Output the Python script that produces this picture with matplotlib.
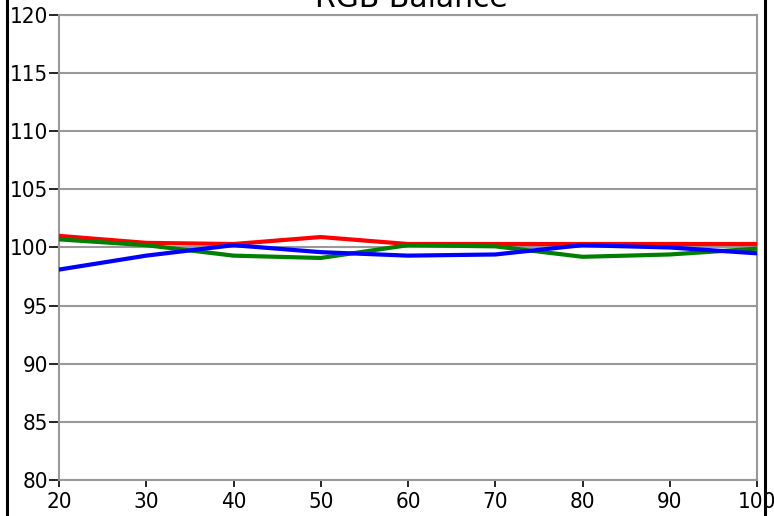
import matplotlib
matplotlib.use("Agg")
import matplotlib.pyplot as plt
from matplotlib.lines import Line2D

x = [20, 30, 40, 50, 60, 70, 80, 90, 100]
red = [101.0, 100.4, 100.3, 100.9, 100.3, 100.3, 100.3, 100.3, 100.3]
green = [100.7, 100.2, 99.3, 99.1, 100.2, 100.1, 99.2, 99.4, 99.9]
blue = [98.1, 99.3, 100.2, 99.6, 99.3, 99.4, 100.2, 100.0, 99.5]
yticks = [80, 85, 90, 95, 100, 105, 110, 115, 120]

W, H = 774, 516
fig = plt.figure(figsize=(W/100, H/100), dpi=100)
ax = fig.add_axes([59/W, 1 - 480/H, (757-59)/W, (480-15)/H])

for y in yticks:
    ax.axhline(y, color='#999999', lw=1.5, zorder=1)

ax.plot(x, red, color='#ff0000', lw=3, zorder=3)
ax.plot(x, green, color='#008000', lw=3, zorder=3)
ax.plot(x, blue, color='#0000ff', lw=3, zorder=3)

ax.set_xlim(20, 100)
ax.set_ylim(80, 120)
ax.set_xticks(x)
ax.set_yticks(yticks)
tick_font = dict(family='DejaVu Sans', stretch='condensed', size=16)
ax.set_xticklabels([str(v) for v in x], fontdict=tick_font)
ax.set_yticklabels([str(v) for v in yticks], fontdict=tick_font)
ax.tick_params(axis='y', color='black', length=7, width=1.2, pad=1)
ax.tick_params(axis='x', color='black', length=5, width=1.2, pad=3.5)
for s in ax.spines.values():
    s.set_color('#999999')
    s.set_linewidth(1.5)

fig.text(411/W, 1 - 7/H, 'RGB Balance', ha='center', va='baseline', fontsize=21.5)

# outer frame lines
fig.add_artist(Line2D([6.5/W, 6.5/W], [0, 1], transform=fig.transFigure, color='black', lw=2.2))
fig.add_artist(Line2D([764.5/W, 764.5/W], [0, 1], transform=fig.transFigure, color='black', lw=2.2))

fig.savefig('out.png', dpi=100)
